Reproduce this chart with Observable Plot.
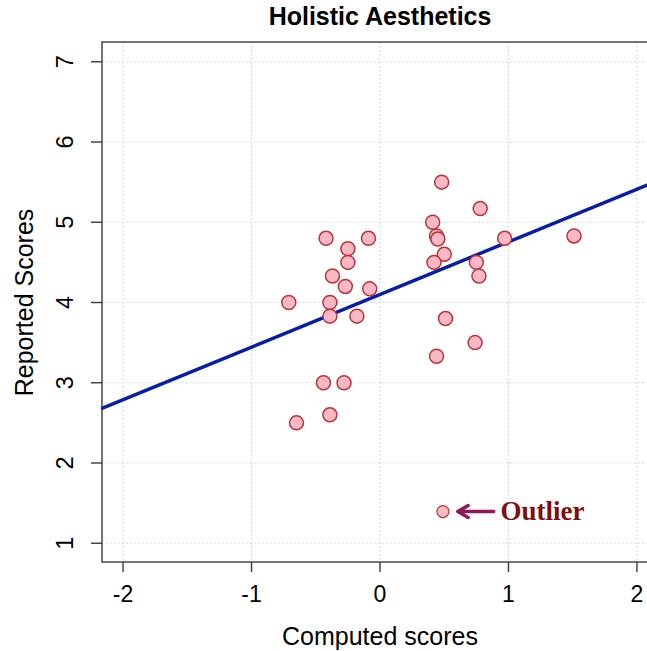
<!DOCTYPE html>
<html>
<head>
<meta charset="utf-8">
<script src="https://cdn.jsdelivr.net/npm/d3@7"></script>
<script src="https://cdn.jsdelivr.net/npm/@observablehq/plot@0.6"></script>
<style>
  html, body { margin: 0; padding: 0; background: #fff; }
  svg { display: block; }
</style>
</head>
<body>
<div id="chart"></div>
<script>
// ---- data ----
const computed = [0.48, 0.78, 0.41, 0.44, 0.45, 0.97, 0.50, 0.42, 0.75, 0.77,
                  -0.42, -0.09, -0.25, -0.25, -0.37, -0.27, -0.08, -0.71, -0.39, -0.39,
                  -0.18, 0.51, 0.74, 0.44, -0.44, -0.28, -0.39, -0.65, 1.51];
const reported = [5.50, 5.17, 5.00, 4.83, 4.79, 4.80, 4.60, 4.50, 4.50, 4.33,
                  4.80, 4.80, 4.67, 4.50, 4.33, 4.20, 4.17, 4.00, 4.00, 3.83,
                  3.83, 3.80, 3.50, 3.33, 3.00, 3.00, 2.60, 2.50, 4.83];
const outlierX = [0.49];
const outlierY = [1.395];
const outlierLabel = ["Outlier"];
const arrowFromX = [0.885];
const arrowToX = [0.605];
const labelX = [0.938];
const fitCoef = [4.10, 0.656]; // intercept, slope (abline)
const xLim = [-2.16, 2.16];
const yLim = [0.76, 7.24];
const xTicks = [-2, -1, 0, 1, 2];
const xTickLabels = ["-2", "-1", "0", "1", "2"];
const yTicks = [1, 2, 3, 4, 5, 6, 7];
const yTickLabels = ["1", "2", "3", "4", "5", "6", "7"];
const titleText = "Holistic Aesthetics";
const xTitle = "Computed scores";
const yTitle = "Reported Scores";

// ---- derived tables ----
const points = computed.map((x, i) => ({x, y: reported[i]}));
const outlier = outlierX.map((x, i) => ({x, y: outlierY[i], label: outlierLabel[i], ax1: arrowFromX[i], ax2: arrowToX[i], lx: labelX[i]}));
const fitLine = xLim.map(x => ({x, y: fitCoef[0] + fitCoef[1] * x}));
const xTickTable = xTicks.map((v, i) => ({v, label: xTickLabels[i]}));
const yTickTable = yTicks.map((v, i) => ({v, label: yTickLabels[i]}));

const sans = "'Liberation Sans', Arial, Helvetica, sans-serif";

const chart = Plot.plot({
  width: 647,
  height: 651,
  marginTop: 42,
  marginBottom: 89,
  marginLeft: 102,
  marginRight: 0,
  style: {fontFamily: sans, background: "#fff", overflow: "visible"},
  x: {domain: xLim, range: [102, 657], axis: null},
  y: {domain: yLim, axis: null},
  marks: [
    Plot.gridX(xTicks, {stroke: "#cfcfcf", strokeOpacity: 1, strokeDasharray: "1.5,2.5", strokeWidth: 1.2}),
    Plot.gridY(yTicks, {stroke: "#cfcfcf", strokeOpacity: 1, strokeDasharray: "1.5,2.5", strokeWidth: 1.2}),
    Plot.rect([{}], {x1: () => xLim[0], x2: () => xLim[1], y1: () => yLim[0], y2: () => yLim[1], fill: "none", stroke: "#3a3a3a", strokeWidth: 1.4}),
    Plot.axisX(xTicks, {tickSize: 10, stroke: "#3a3a3a", strokeWidth: 1.4, tickFormat: () => ""}),
    Plot.axisY(yTicks, {tickSize: 11, stroke: "#3a3a3a", strokeWidth: 1.4, tickFormat: () => ""}),
    Plot.text(xTickTable, {x: "v", frameAnchor: "bottom", dy: 32, text: "label", fontSize: 23, fill: "#000", lineAnchor: "middle", textAnchor: "middle"}),
    Plot.text(yTickTable, {y: "v", x: () => xLim[0], dx: -37, text: "label", fontSize: 23.5, fill: "#000", rotate: -90, lineAnchor: "middle", textAnchor: "middle"}),
    Plot.line(fitLine, {x: "x", y: "y", stroke: "#0b1f99", strokeWidth: 3.5}),
    Plot.dot(points, {x: "x", y: "y", r: 7, fill: "#fbb7c3", fillOpacity: 1, stroke: "#b3363f", strokeWidth: 1.5}),
    Plot.dot(outlier, {x: "x", y: "y", r: 6, fill: "#fbb7c3", stroke: "#b3363f", strokeWidth: 1.2}),
    Plot.arrow(outlier, {x1: "ax1", y1: "y", x2: "ax2", y2: "y", stroke: "#8b1a55", strokeWidth: 3.5, headLength: 22, headAngle: 60}),
    Plot.text(outlier, {x: "lx", y: "y", text: "label", textAnchor: "start", lineAnchor: "middle", fontFamily: "'Liberation Serif', 'Times New Roman', serif", fontWeight: "bold", fontSize: 27, fill: "#7b1113"}),
    Plot.text([titleText], {x: () => 0, frameAnchor: "top", dy: -26, text: d => d, fontSize: 25, fontWeight: "bold", fill: "#000", lineAnchor: "middle", textAnchor: "middle"}),
    Plot.text([xTitle], {x: () => 0, frameAnchor: "bottom", dy: 74, text: d => d, fontSize: 25, fill: "#000", lineAnchor: "middle", textAnchor: "middle"}),
    Plot.text([yTitle], {y: () => 4, frameAnchor: "left", dx: -78, text: d => d, fontSize: 25, fill: "#000", rotate: -90, lineAnchor: "middle", textAnchor: "middle"})
  ]
});
document.getElementById("chart").appendChild(chart);
</script>
</body>
</html>
